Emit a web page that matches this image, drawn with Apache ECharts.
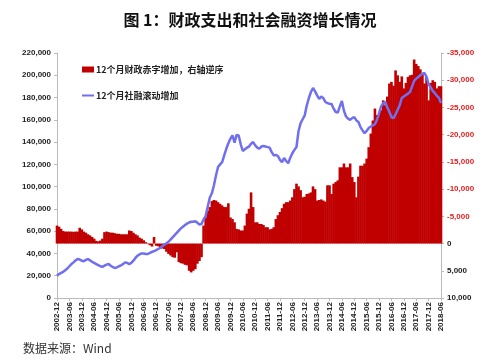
<!DOCTYPE html>
<html><head><meta charset="utf-8">
<script src="https://cdn.jsdelivr.net/npm/echarts@6/dist/echarts.min.js"></script>
<style>html,body{margin:0;padding:0;background:#fff}#c{width:500px;height:362px}</style>
</head><body><div id="c"></div>
<script>
// months 2002-12 .. 2018-06
const months = [];
for (let y = 2002, m = 12; y < 2018 || (y === 2018 && m <= 6); ) {
  months.push(y + '-' + (m < 10 ? '0' + m : m));
  m++; if (m > 12) { m = 1; y++; }
}
// 12个月社融滚动增加 (left axis)
const socialFinancing = [
20000,21500,22500,23500,25000,26500,28500,30500,32000,33800,35000,34500,33500,33000,34200,35000,33800,32500,31500,30500,
29500,28500,28000,29000,30000,30500,29000,27800,27000,27500,28500,29300,30500,32000,31500,30500,31500,33500,36000,38000,
39200,40000,40000,39500,39500,40500,41500,42000,43000,44000,45000,46500,48000,49000,50500,52500,54500,56500,58500,60500,
62500,64000,65500,66800,67800,68500,68500,69000,67500,66000,66500,70500,73600,82000,90000,94000,101000,110000,117600,120000,
122000,128000,134000,139000,143000,146000,139500,146500,146000,138000,132000,133500,135000,136000,138500,140000,137000,135000,134000,136000,
136500,136000,135500,135000,131000,128000,128500,127500,124000,122000,125700,123000,121000,126000,130000,133000,135600,150000,157000,160500,
164000,173000,179600,185000,188600,185500,182000,178700,181000,179500,176000,175000,174500,174200,170000,167000,166500,172000,177000,168000,
163000,161000,160000,161500,162500,159500,158000,153500,150500,148000,150000,152600,154000,155000,156000,160000,166000,172000,175000,176000,
171000,167000,162500,161600,165000,169000,173000,179600,181000,182300,183500,185000,190000,195000,197000,198500,200000,201500,202000,198500,
192000,189000,186000,184000,181500,179600,175000];
// 12个月财政赤字增加 (right axis, inverse)
const fiscalDeficit = [
-3300,-3100,-2700,-2300,-2200,-2200,-2200,-2200,-2150,-2200,-2200,-2900,-2600,-2200,-2000,-1700,-1500,-1200,-900,-500,
-400,-550,-900,-2100,-2200,-2100,-2000,-2000,-1900,-1800,-1800,-1700,-1700,-1700,-1700,-2400,-2300,-2000,-1700,-1500,
-1100,-900,-600,-250,100,300,550,-1200,400,500,900,900,1000,1500,1900,2200,2500,2600,1600,3400,
3600,3700,3900,4000,5000,5300,5000,4700,3700,3200,2500,-3300,-4800,-6000,-6700,-7800,-8000,-7900,-7600,-7300,
-7000,-6700,-6700,-7400,-4800,-4500,-3900,-2700,-2600,-2400,-2400,-3300,-5500,-6400,-9400,-6700,-3900,-3900,-3600,-3600,
-3400,-3000,-3000,-2600,-2700,-3000,-4500,-5200,-5800,-6500,-7300,-7600,-7600,-7900,-8500,-10000,-11000,-10500,-9800,-8500,
-8600,-9100,-9200,-9400,-10500,-10000,-7900,-8000,-8100,-7900,-7700,-10700,-10700,-9100,-11000,-11300,-11600,-14000,-14000,-14700,
-14000,-14000,-14700,-12200,-11300,-8500,-12300,-14300,-14300,-14700,-15600,-17700,-20200,-22600,-24800,-23600,-23600,-24500,-26300,-25400,
-27000,-29400,-29700,-29000,-31800,-30900,-29700,-30700,-28500,-29500,-30600,-30900,-31000,-33800,-33000,-32600,-32000,-31200,-29400,-30600,
-26300,-29500,-30000,-29700,-28500,-28900,-28900];
const leftTicks = {min: 0, max: 220000, interval: 20000};
const rightTicks = {min: -35000, max: 10000, interval: 5000};
const names = ['12个月财政赤字增加，右轴逆序', '12个月社融滚动增加'];

const fmt = v => Math.round(v).toLocaleString('en-US');
const chart = echarts.init(document.getElementById('c'));
chart.setOption({
  backgroundColor: '#fff',
  animation: false,
  title: {
    text: '图 1：财政支出和社会融资增长情况',
    left: 'center', top: 7,
    textStyle: {fontFamily: 'Noto Sans CJK SC', fontSize: 16, fontWeight: 'bold', color: '#111'}
  },
  graphic: [{
    type: 'text', left: 23, top: 342,
    style: {text: '数据来源：Wind', fontFamily: 'Noto Sans CJK SC', fontSize: 12, fill: '#333'}
  }],
  legend: [{
    data: [{name: names[0], icon: 'rect'}],
    left: 77, top: 60, itemWidth: 12, itemHeight: 6, itemGap: 2,
    textStyle: {fontFamily: 'Noto Sans CJK SC', fontSize: 9, fontWeight: 'bold', color: '#222', padding: [0,0,0,-3]}
  }, {
    data: [{name: names[1], icon: 'rect'}],
    left: 77, top: 86, itemWidth: 12, itemHeight: 2,
    textStyle: {fontFamily: 'Noto Sans CJK SC', fontSize: 9, fontWeight: 'bold', color: '#222', padding: [0,0,0,-3]}
  }],
  grid: {left: 57, right: 59, top: 53, bottom: 64, containLabel: false},
  xAxis: {
    type: 'category', data: months, boundaryGap: false,
    axisLine: {lineStyle: {color: '#bbb'}},
    axisTick: {show: true, interval: i => i % 6 === 0, length: 3, lineStyle: {color: '#bbb'}},
    axisLabel: {
      interval: i => i % 6 === 0, rotate: 90, fontSize: 8, fontWeight: 'bold',
      fontFamily: 'Liberation Sans', color: '#222', margin: 4
    }
  },
  yAxis: [{
    type: 'value', min: leftTicks.min, max: leftTicks.max, interval: leftTicks.interval,
    splitLine: {show: false},
    axisLine: {show: true, lineStyle: {color: '#bbb'}},
    axisTick: {show: true, length: 3, lineStyle: {color: '#bbb'}},
    axisLabel: {formatter: fmt, fontSize: 8, fontWeight: 'bold', fontFamily: 'Liberation Sans', color: '#222', margin: 6}
  }, {
    type: 'value', min: rightTicks.min, max: rightTicks.max, interval: rightTicks.interval,
    inverse: true, position: 'right',
    splitLine: {show: false},
    axisLine: {show: true, lineStyle: {color: '#bbb'}},
    axisTick: {show: true, length: 3, lineStyle: {color: '#bbb'}},
    axisLabel: {
      formatter: fmt, fontSize: 8, fontWeight: 'bold', fontFamily: 'Liberation Sans', margin: 6,
      color: v => (Number(v) < 0 ? '#e02020' : '#222')
    }
  }],
  series: [{
    name: names[0], type: 'bar', yAxisIndex: 1, data: fiscalDeficit,
    barWidth: 2.6, itemStyle: {color: '#c00000'}, z: 2
  }, {
    name: names[1], type: 'line', yAxisIndex: 0, data: socialFinancing,
    showSymbol: false, symbol: 'none', smooth: false,
    lineStyle: {color: '#6f6ff0', width: 2.5}, itemStyle: {color: '#6f6ff0'}, z: 3
  }]
});
</script></body></html>
